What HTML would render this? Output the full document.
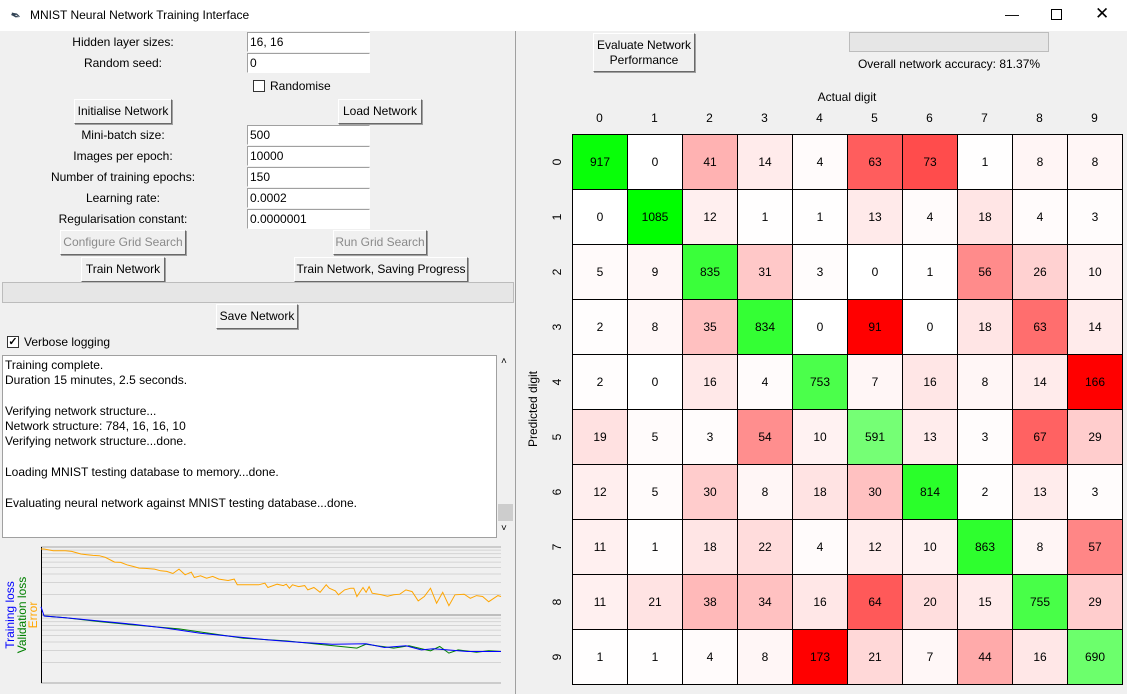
<!DOCTYPE html>
<html><head><meta charset="utf-8"><style>
*{box-sizing:border-box}
body{margin:0;width:1127px;height:694px;overflow:hidden;background:#f0f0f0;font-family:"Liberation Sans",sans-serif;font-size:12px;color:#000;position:relative}
.a{position:absolute}
.lbl{position:absolute;width:200px;text-align:center;line-height:14px}
.ent{position:absolute;left:247px;width:123px;height:20px;background:#fff;border:1px solid #a0a0a0;border-right-color:#fff;border-bottom-color:#fff;padding:2px 2px;line-height:14px}
.btn{position:absolute;background:#f0f0f0;border:1px solid;border-color:#fff #696969 #696969 #fff;box-shadow:1px 1px 0 #a0a0a0;text-align:center;line-height:22px}
.dis{color:#8a8a8a}
.cb{position:absolute;width:12px;height:12px;border:1px solid #333;background:#fff}
</style></head><body>
<div class="a" style="left:0;top:0;width:1127px;height:31px;background:#fff">
<div class="a" style="left:10px;top:8px;font-size:13px;color:#345;transform:rotate(20deg)">&#x2712;</div>
<div class="a" style="left:30px;top:8px;font-size:12px">MNIST Neural Network Training Interface</div>
<div class="a" style="left:1005px;top:6px;font-size:14px">&#x2014;</div>
<div class="a" style="left:1051px;top:9px;width:11px;height:11px;border:1px solid #000"></div>
<div class="a" style="left:1095px;top:4px;font-size:17px">&#x2715;</div>
</div>
<div class="a" style="left:515px;top:31px;width:1px;height:663px;background:#a0a0a0"></div>

<div class="lbl" style="left:23px;top:35px">Hidden layer sizes:</div>
<div class="ent" style="top:32px">16, 16</div>
<div class="lbl" style="left:23px;top:56px">Random seed:</div>
<div class="ent" style="top:53px">0</div>
<div class="cb" style="left:253px;top:80px"></div>
<div class="a" style="left:270px;top:79px">Randomise</div>
<div class="btn" style="left:74px;top:99px;width:98px;height:25px">Initialise Network</div>
<div class="btn" style="left:338px;top:99px;width:84px;height:25px">Load Network</div>
<div class="lbl" style="left:23px;top:128px">Mini-batch size:</div>
<div class="ent" style="top:125px">500</div>
<div class="lbl" style="left:23px;top:149px">Images per epoch:</div>
<div class="ent" style="top:146px">10000</div>
<div class="lbl" style="left:23px;top:170px">Number of training epochs:</div>
<div class="ent" style="top:167px">150</div>
<div class="lbl" style="left:23px;top:191px">Learning rate:</div>
<div class="ent" style="top:188px">0.0002</div>
<div class="lbl" style="left:23px;top:212px">Regularisation constant:</div>
<div class="ent" style="top:209px">0.0000001</div>
<div class="btn dis" style="left:60px;top:230px;width:126px;height:25px">Configure Grid Search</div>
<div class="btn dis" style="left:333px;top:230px;width:94px;height:25px">Run Grid Search</div>
<div class="btn" style="left:81px;top:257px;width:84px;height:25px">Train Network</div>
<div class="btn" style="left:294px;top:257px;width:174px;height:25px">Train Network, Saving Progress</div>
<div class="a" style="left:2px;top:282px;width:512px;height:21px;background:#e6e6e6;border:1px solid #bcbcbc"></div>
<div class="btn" style="left:216px;top:304px;width:82px;height:25px">Save Network</div>
<div class="cb" style="left:7px;top:336px;font-size:11px;line-height:10px;text-align:center;font-weight:bold">&#x2713;</div>
<div class="a" style="left:24px;top:335px">Verbose logging</div>
<div class="a" style="left:2px;top:355px;width:495px;height:183px;background:#fff;border:1px solid #a0a0a0;padding:2px 2px;line-height:15.3px;white-space:pre">Training complete.
Duration 15 minutes, 2.5 seconds.

Verifying network structure...
Network structure: 784, 16, 16, 10
Verifying network structure...done.

Loading MNIST testing database to memory...done.

Evaluating neural network against MNIST testing database...done.</div>
<div class="a" style="left:497px;top:355px;width:17px;height:183px;background:#f0f0f0">
<div class="a" style="left:4px;top:1px;font-size:10px">&#x2C4;</div>
<div class="a" style="left:1px;top:149px;width:15px;height:17px;background:#cdcdcd"></div>
<div class="a" style="left:4px;top:168px;font-size:10px">&#x2C5;</div>
</div>

<svg class="a" style="left:0;top:538px" width="515" height="156" id="lc"></svg>

<div class="btn" style="left:593px;top:33px;width:102px;height:39px;line-height:15px;padding-top:4px">Evaluate Network<br>Performance</div>
<div class="a" style="left:849px;top:32px;width:200px;height:20px;background:#e6e6e6;border:1px solid #bcbcbc"></div>
<div class="a" style="left:849px;top:57px;width:200px;text-align:center">Overall network accuracy: 81.37%</div>
<div class="a" style="left:747px;top:90px;width:200px;text-align:center">Actual digit</div>
<div class="a" style="left:433px;top:402px;width:200px;text-align:center;transform:rotate(-90deg)">Predicted digit</div>
<div id="mx"></div>

<script>
const digits=[0,1,2,3,4,5,6,7,8,9];
const row0=[917,0,41,14,4,63,73,1,8,8];
const row1=[0,1085,12,1,1,13,4,18,4,3];
const row2=[5,9,835,31,3,0,1,56,26,10];
const row3=[2,8,35,834,0,91,0,18,63,14];
const row4=[2,0,16,4,753,7,16,8,14,166];
const row5=[19,5,3,54,10,591,13,3,67,29];
const row6=[12,5,30,8,18,30,814,2,13,3];
const row7=[11,1,18,22,4,12,10,863,8,57];
const row8=[11,21,38,34,16,64,20,15,755,29];
const row9=[1,1,4,8,173,21,7,44,16,690];
const matrix=[row0,row1,row2,row3,row4,row5,row6,row7,row8,row9];

const errEpochs=[0,1,4,8,10,13,15,17,19,21,24,26,28,30,32,34,37,39,41,43,45,47,49,50,52,54,56,58,61,63,64,66,69,71,73,74,77,79,80,81,82,84,86,87,89,91,93,94,96,97,99,101,102,103,105,106,107,108,111,113,115,117,119,121,123,125,127,129,131,133,135,138,140,142,144,146,149,150];
const errValues=[0.934,0.934,0.883,0.883,0.863,0.788,0.770,0.753,0.745,0.704,0.600,0.593,0.548,0.518,0.490,0.484,0.473,0.447,0.437,0.408,0.473,0.390,0.427,0.356,0.377,0.348,0.369,0.337,0.322,0.337,0.278,0.278,0.278,0.278,0.294,0.254,0.284,0.271,0.284,0.248,0.278,0.262,0.271,0.234,0.254,0.216,0.278,0.248,0.226,0.198,0.234,0.248,0.248,0.187,0.254,0.216,0.262,0.209,0.198,0.189,0.198,0.202,0.234,0.221,0.161,0.187,0.248,0.149,0.216,0.137,0.198,0.202,0.176,0.193,0.187,0.157,0.193,0.187];
const trainEpochs=[0,1,8,19,30,41,52,63,74,84,95,106,112,119,124,128,139,150];
const trainValues=[0.132,0.0967,0.0914,0.0817,0.0730,0.0638,0.0539,0.0482,0.0431,0.0398,0.0372,0.0377,0.0333,0.0352,0.0307,0.0318,0.0291,0.0291];
const valEpochs=[1,8,19,30,45,66,80,89,103,106,115,120,127,130,133,136,142,146,150];
const valValues=[0.0967,0.0914,0.0799,0.0714,0.0624,0.0456,0.0416,0.0377,0.0326,0.0372,0.0326,0.0352,0.0298,0.0344,0.0275,0.0307,0.0284,0.0298,0.0291];

const mx=document.getElementById('mx');
const X0=572,Y0=134,CW=55,CH=55;
const colTot=digits.map(c=>matrix.reduce((s,r)=>s+r[c],0));
digits.forEach(c=>{
  const l=document.createElement('div');
  
  
  l.className='a';l.style.cssText=`left:${X0+c*CW}px;top:111px;width:${CW}px;text-align:center`;
  l.textContent=c;mx.appendChild(l);
  const r=document.createElement('div');
  
  
  r.className='a';r.style.cssText=`left:${X0-25}px;top:${Y0+c*CH+CH/2-7}px;width:20px;text-align:center;transform:rotate(-90deg)`;
  r.textContent=c;mx.appendChild(r);
});
matrix.forEach((row,ri)=>row.forEach((v,ci)=>{
  const frac=v/colTot[ci];let col;
  if(ri===ci){const w=Math.max(0,Math.min(255,Math.round((0.955-frac)*400)));col=`rgb(${w},255,${w})`;}
  else{const t=Math.min(1,Math.pow(frac/0.1,1.3));const w=Math.round(255*(1-t));col=`rgb(255,${w},${w})`;}
  const d=document.createElement('div');
  
  
  d.className='a';
  d.style.cssText=`left:${X0+ci*CW}px;top:${Y0+ri*CH}px;width:${CW+1}px;height:${CH+1}px;border:1px solid #000;background:${col};text-align:center;line-height:${CH-1}px`;
  d.textContent=v;mx.appendChild(d);
}));

const svg=document.getElementById('lc');const NS='http://www.w3.org/2000/svg';
const cx0=41,cx1=501,pTop=9,pMid=77,pBot=145,maxE=150;
const xs=e=>cx0+e/maxE*(cx1-cx0);
const yErr=v=>pTop+(-Math.log10(v))*(pMid-pTop);
const yLoss=v=>pMid+(-Math.log10(v/0.1))*(pBot-pMid);
function el(t,a){const e=document.createElementNS(NS,t);for(const k in a)e.setAttribute(k,a[k]);svg.appendChild(e);return e;}
const bg=el('rect',{x:0,y:0,width:515,height:156,fill:'#f0f0f0'});


[pTop,pMid].forEach(base=>{
  for(let k=2;k<=10;k++){const y=base+(pMid-pTop)-Math.log10(k)*(pMid-pTop);
    const g=el('line',{x1:cx0,x2:cx1,y1:y,y2:y,stroke:k===10?'#a8a8a8':'#d4d4d4','stroke-width':1});
    
    }
});
const mid=el('line',{x1:cx0,x2:cx1,y1:pMid,y2:pMid,stroke:'#a0a0a0','stroke-width':1.3});


const bl=el('line',{x1:cx0,x2:cx1,y1:pBot,y2:pBot,stroke:'#a8a8a8'});


const yl=el('line',{x1:cx0+0.5,x2:cx0+0.5,y1:pTop,y2:pBot,stroke:'#000','stroke-width':1});


function series(ep,vals,fy,color,name){
  const p=el('polyline',{points:ep.map((e,i)=>xs(e).toFixed(1)+','+fy(vals[i]).toFixed(1)).join(' '),fill:'none',stroke:color,'stroke-width':1});
  
  
}
series(errEpochs,errValues,yErr,'#ffa500','error-line');
series(valEpochs,valValues,yLoss,'#008000','validation-loss-line');
series(trainEpochs,trainValues,yLoss,'#0000ff','training-loss-line');
[['Training loss','#0000ff',14,'training-loss-label'],['Validation loss','#008000',26,'validation-loss-label'],['Error','#ffa500',37,'error-label']].forEach(([t,c,x,n])=>{
  const tx=el('text',{x:x,y:77,fill:c,'font-size':12,'font-family':'Liberation Sans, sans-serif','text-anchor':'middle',transform:`rotate(-90 ${x} 77)`});
  
  
  tx.textContent=t;
});
</script>
</body></html>
